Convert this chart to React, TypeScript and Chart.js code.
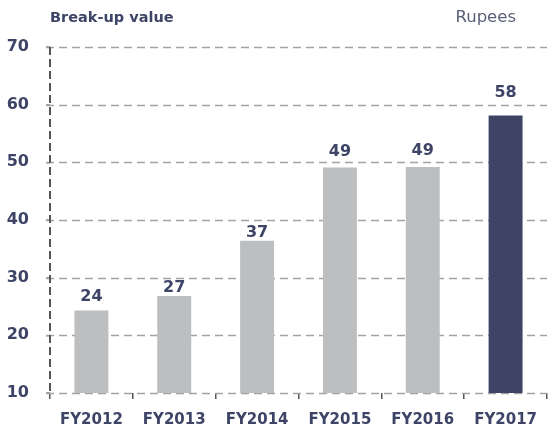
import React, { useEffect, useRef } from "react";
import { Chart, registerables } from "chart.js";
Chart.register(...registerables);

const categories = ["FY2012", "FY2013", "FY2014", "FY2015", "FY2016", "FY2017"];
const values = [24.3, 26.8, 36.4, 49.1, 49.2, 58.1];
const labels = ["24", "27", "37", "49", "49", "58"];
const barColors = ["#BDBEC0", "#BDBEC0", "#BDBEC0", "#BDBEC0", "#BDBEC0", "#3D4466"];
const yTicks = [10, 20, 30, 40, 50, 60, 70];
const title = "Break-up value";
const unit = "Rupees";

const TEXT = "#3D4466";
const FONT = "'DejaVu Sans', sans-serif";
const labelGaps = [10, 4, 4, 12, 12, 19];

const overlay = {
  id: "overlay",
  beforeDatasetsDraw(chart: any) {
    const ctx = chart.ctx;
    const area = chart.chartArea;
    const ys = chart.scales.y;
    ctx.save();
    ctx.strokeStyle = "#A3A3A3";
    ctx.lineWidth = 1.5;
    ctx.setLineDash([8, 5]);
    yTicks.forEach((v) => {
      const py = Math.round(ys.getPixelForValue(v)) + 0.5;
      ctx.beginPath();
      ctx.moveTo(area.left - 4, py);
      ctx.lineTo(area.right, py);
      ctx.stroke();
    });
    ctx.strokeStyle = "#555555";
    ctx.lineWidth = 2;
    ctx.setLineDash([8, 4]);
    ctx.beginPath();
    ctx.moveTo(area.left, area.top);
    ctx.lineTo(area.left, area.bottom);
    ctx.stroke();
    ctx.restore();
  },
  afterDatasetsDraw(chart: any) {
    const ctx = chart.ctx;
    const area = chart.chartArea;
    ctx.save();
    ctx.fillStyle = TEXT;
    ctx.font = `bold 16px ${FONT}`;
    ctx.textAlign = "center";
    ctx.textBaseline = "alphabetic";
    const meta = chart.getDatasetMeta(0);
    meta.data.forEach((bar: any, i: number) => {
      ctx.fillText(labels[i], bar.x, bar.y - labelGaps[i]);
    });
    ctx.textBaseline = "middle";
    ctx.textAlign = "left";
    ctx.font = `bold 14.5px ${FONT}`;
    ctx.fillText(title, area.left, 18);
    ctx.textAlign = "right";
    ctx.font = `16.5px ${FONT}`;
    ctx.fillStyle = "#5A5F78";
    ctx.fillText(unit, area.right - 31, 18);
    ctx.restore();
  },
};

export default function App() {
  const ref = useRef<HTMLCanvasElement>(null);
  useEffect(() => {
    const chart = new Chart(ref.current!, {
      type: "bar",
      data: {
        labels: categories,
        datasets: [
          {
            data: values,
            backgroundColor: barColors,
            barPercentage: 0.41,
            categoryPercentage: 1,
          },
        ],
      },
      options: {
        animation: false,
        responsive: true,
        maintainAspectRatio: false,
        layout: { padding: { top: 47, right: 8, left: 7, bottom: 8 } },
        plugins: { legend: { display: false }, tooltip: { enabled: false } },
        scales: {
          x: {
            offset: true,
            afterFit: (scale: any) => {
              scale.paddingLeft = 0;
              scale.paddingRight = 0;
              scale.height = 36;
            },
            grid: {
              offset: true,
              drawOnChartArea: false,
              drawTicks: true,
              tickLength: 6,
              color: "#555555",
              lineWidth: 1.5,
            },
            border: { display: false },
            ticks: {
              color: TEXT,
              font: { family: FONT, size: 15, weight: "bold" },
              padding: 12,
            },
          },
          y: {
            min: 10,
            max: 70,
            afterBuildTicks: (scale: any) => {
              scale.ticks = yTicks.map((v) => ({ value: v }));
            },
            afterFit: (scale: any) => {
              scale.width = 43;
            },
            ticks: {
              color: TEXT,
              font: { family: FONT, size: 16, weight: "bold" },
              padding: 17,
            },
            grid: {
              drawOnChartArea: false,
              drawTicks: true,
              color: "#A3A3A3",
              lineWidth: 1.5,
              tickLength: 4,
            },
            border: { display: false },
          },
        },
      },
      plugins: [overlay],
    });
    return () => chart.destroy();
  }, []);
  return (
    <div style={{ position: "fixed", left: 0, top: 0, width: 555, height: 437, background: "#fff" }}>
      <canvas ref={ref} />
    </div>
  );
}
